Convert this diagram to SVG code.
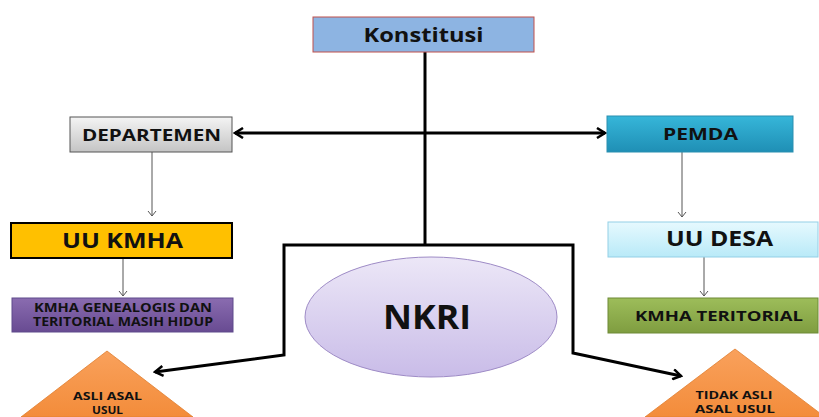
<svg xmlns="http://www.w3.org/2000/svg" width="819" height="417" viewBox="0 0 819 417">
<defs>
<linearGradient id="gGray" x1="0" y1="0" x2="0" y2="1"><stop offset="0" stop-color="#f4f4f4"/><stop offset="1" stop-color="#c4c4c4"/></linearGradient>
<linearGradient id="gTeal" x1="0" y1="0" x2="0" y2="1"><stop offset="0" stop-color="#36b6d9"/><stop offset="1" stop-color="#1f8fb5"/></linearGradient>
<linearGradient id="gCyan" x1="0" y1="0" x2="0" y2="1"><stop offset="0" stop-color="#e6f9fe"/><stop offset="1" stop-color="#b9eaf8"/></linearGradient>
<linearGradient id="gPurple" x1="0" y1="0" x2="0" y2="1"><stop offset="0" stop-color="#8a6cb0"/><stop offset="1" stop-color="#684b92"/></linearGradient>
<linearGradient id="gGreen" x1="0" y1="0" x2="0" y2="1"><stop offset="0" stop-color="#9dbd5a"/><stop offset="1" stop-color="#7f9d40"/></linearGradient>
<linearGradient id="gLav" x1="0" y1="0" x2="0" y2="1"><stop offset="0" stop-color="#ece7f7"/><stop offset="1" stop-color="#c9bce8"/></linearGradient>
<linearGradient id="gOrange" x1="0" y1="0" x2="0" y2="1"><stop offset="0" stop-color="#f9a15c"/><stop offset="1" stop-color="#f38c3a"/></linearGradient>
<marker id="thick" markerWidth="12" markerHeight="12" refX="10" refY="6" orient="auto" markerUnits="userSpaceOnUse"><path d="M2,1 L10,6 L2,11" fill="none" stroke="#000" stroke-width="2.5"/></marker>
<marker id="thinD" markerWidth="10" markerHeight="10" refX="9" refY="5" orient="auto" markerUnits="userSpaceOnUse"><path d="M4,1 L9,5 L4,9" fill="none" stroke="#555" stroke-width="1"/></marker>
</defs>
<style>
text{font-family:"Open Sans","Liberation Sans",sans-serif;font-weight:700;text-anchor:middle;fill:#111}
.main{stroke:#000;stroke-width:3;fill:none}
.sub{stroke:#555;stroke-width:1;fill:none}
</style>
<rect width="819" height="417" fill="#fff"/>
<g id="connectors">
<path class="main" d="M425,52 V245"/>
<path class="main" d="M425,133 H235" marker-end="url(#thick)"/>
<path class="main" d="M425,133 H605" marker-end="url(#thick)"/>
<path class="main" d="M425,245 H284 V355 L155,372" marker-end="url(#thick)"/>
<path class="main" d="M425,245 H573 V353 L681,376" marker-end="url(#thick)"/>
<path class="sub" d="M152,152 V216" marker-end="url(#thinD)"/>
<path class="sub" d="M682,152 V217" marker-end="url(#thinD)"/>
<path class="sub" d="M123,258 V296" marker-end="url(#thinD)"/>
<path class="sub" d="M704,257 V296" marker-end="url(#thinD)"/>
</g>
<g id="konstitusi">
<rect x="313" y="17" width="221" height="35" fill="#8db4e2" stroke="#c0504d" stroke-width="1"/>
<text x="423.5" y="42" font-size="20" textLength="120" lengthAdjust="spacingAndGlyphs">Konstitusi</text>
</g>
<g id="departemen">
<rect x="70" y="117" width="162" height="35" fill="url(#gGray)" stroke="#555" stroke-width="1"/>
<text x="151.5" y="141" font-size="16" textLength="139" lengthAdjust="spacingAndGlyphs">DEPARTEMEN</text>
</g>
<g id="pemda">
<rect x="607" y="116" width="186" height="36" fill="url(#gTeal)" stroke="#2a8fb0" stroke-width="1"/>
<text x="700.5" y="140" font-size="16" textLength="75" lengthAdjust="spacingAndGlyphs">PEMDA</text>
</g>
<g id="uu-kmha">
<rect x="11" y="223" width="221" height="35" fill="#ffc000" stroke="#000" stroke-width="2"/>
<text x="122.5" y="248" font-size="21" textLength="121" lengthAdjust="spacingAndGlyphs">UU KMHA</text>
</g>
<g id="kmha-genealogis">
<rect x="12" y="298" width="221" height="34" fill="url(#gPurple)" stroke="#5f4a8b" stroke-width="1"/>
<text x="123" y="312" font-size="11.5" textLength="178" lengthAdjust="spacingAndGlyphs">KMHA GENEALOGIS DAN</text>
<text x="123" y="326" font-size="11.5" textLength="180" lengthAdjust="spacingAndGlyphs">TERITORIAL MASIH HIDUP</text>
</g>
<g id="uu-desa">
<rect x="608" y="222" width="210" height="35" fill="url(#gCyan)" stroke="#93cfe6" stroke-width="1"/>
<text x="719.5" y="246" font-size="21" textLength="107" lengthAdjust="spacingAndGlyphs">UU DESA</text>
</g>
<g id="kmha-teritorial">
<rect x="608" y="298" width="210" height="35" fill="url(#gGreen)" stroke="#6e8a37" stroke-width="1"/>
<text x="719" y="321" font-size="15" textLength="168" lengthAdjust="spacingAndGlyphs">KMHA TERITORIAL</text>
</g>
<g id="nkri">
<ellipse cx="431" cy="317" rx="126" ry="60" fill="url(#gLav)" stroke="#9e8bc6" stroke-width="1"/>
<text x="427" y="329" font-size="34" textLength="88" lengthAdjust="spacingAndGlyphs">NKRI</text>
</g>
<g id="asli">
<path d="M107,351 L21,417 L193,417 Z" fill="url(#gOrange)" stroke="#e07e2e" stroke-width="0.8"/>
<text x="107.5" y="400" font-size="11" textLength="69" lengthAdjust="spacingAndGlyphs">ASLI ASAL</text>
<text x="107.5" y="414" font-size="11" textLength="31" lengthAdjust="spacingAndGlyphs">USUL</text>
</g>
<g id="tidak-asli">
<path d="M735,349 L645,417 L825,417 Z" fill="url(#gOrange)" stroke="#e07e2e" stroke-width="0.8"/>
<text x="734" y="399" font-size="11" textLength="77" lengthAdjust="spacingAndGlyphs">TIDAK ASLI</text>
<text x="735" y="413" font-size="11" textLength="80" lengthAdjust="spacingAndGlyphs">ASAL USUL</text>
</g>
</svg>
